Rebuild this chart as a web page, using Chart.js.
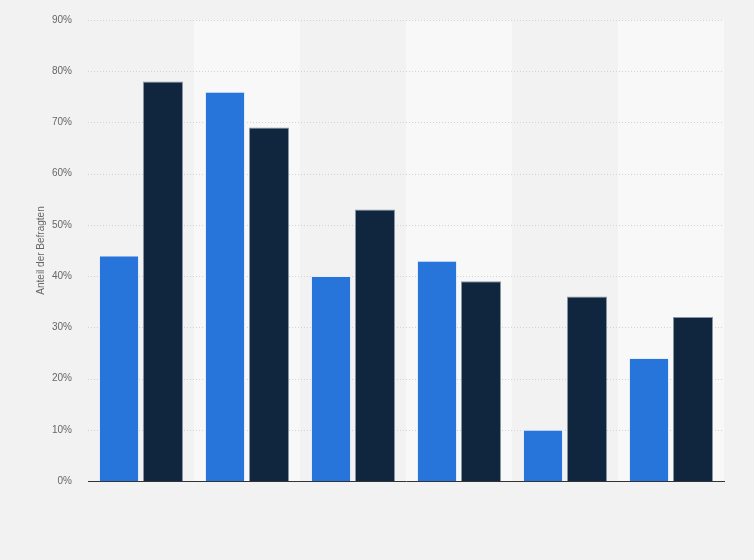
<!DOCTYPE html>
<html>
<head>
<meta charset="utf-8">
<script src="https://cdn.jsdelivr.net/npm/chart.js@4"></script>
<style>
html,body{margin:0;padding:0;background:#f2f2f2;}
#wrap{width:754px;height:560px;position:relative;}
</style>
</head>
<body>
<div id="wrap"><canvas id="c" width="754" height="560"></canvas></div>
<script>
const categories = ["1", "2", "3", "4", "5", "6"];
const seriesA = [44, 76, 40, 43, 10, 24];
const seriesB = [78, 69, 53, 39, 36, 32];
const yTicks = [0, 10, 20, 30, 40, 50, 60, 70, 80, 90];
const yTitle = "Anteil der Befragten";

const bandPlugin = {
  id: 'bands',
  beforeDatasetsDraw(chart) {
    const {ctx, chartArea, scales} = chart;
    const x = scales.x;
    ctx.save();
    categories.forEach((c, i) => {
      if (i % 2 === 1) {
        const l = x.getPixelForValue(i - 0.5);
        const r = x.getPixelForValue(i + 0.5);
        ctx.fillStyle = '#f8f8f8';
        ctx.fillRect(l, chartArea.top, r - l, chartArea.bottom - chartArea.top);
      }
    });
    ctx.restore();
  }
};
const gridPlugin = {
  id: 'gridOver',
  beforeDatasetsDraw(chart) {
    const {ctx, chartArea, scales} = chart;
    const y = scales.y;
    ctx.save();
    ctx.strokeStyle = '#d2d2d2';
    ctx.lineWidth = 1;
    ctx.setLineDash([1, 2]);
    yTicks.forEach(v => {
      if (v === 0) return;
      const py = Math.round(y.getPixelForValue(v)) + 0.5;
      ctx.beginPath();
      ctx.moveTo(chartArea.left, py);
      ctx.lineTo(chartArea.right, py);
      ctx.stroke();
    });
    ctx.restore();
  }
};

new Chart(document.getElementById('c'), {
  type: 'bar',
  data: {
    labels: categories,
    datasets: [
      {data: seriesA, backgroundColor: '#2775db', borderColor: '#e6eefa', borderWidth: 1, categoryPercentage: 0.83, barPercentage: 0.91},
      {data: seriesB, backgroundColor: '#0f263e', borderColor: '#8a96a3', borderWidth: 1, categoryPercentage: 0.83, barPercentage: 0.91}
    ]
  },
  options: {
    responsive: false,
    animation: false,
    devicePixelRatio: 1,
    layout: {padding: {top: 20, right: 30, bottom: 79, left: 30}},
    plugins: {legend: {display: false}, tooltip: {enabled: false}},
    scales: {
      x: {
        ticks: {display: false},
        grid: {display: false, drawTicks: false},
        border: {display: true, color: '#333333', width: 1}
      },
      y: {
        min: 0, max: 90,
        afterBuildTicks(axis) { axis.ticks = yTicks.map(v => ({value: v})); },
        afterFit(axis) { axis.width = 58; axis.paddingTop = 0; axis.paddingBottom = 0; },
        ticks: {
          callback: v => v + '%',
          color: '#666666',
          font: {family: 'Arial, "Liberation Sans", sans-serif', size: 10},
          padding: 16
        },
        grid: {display: false, drawTicks: false},
        border: {display: false},
        title: {
          display: true, text: yTitle, color: '#666666',
          font: {family: 'Arial, "Liberation Sans", sans-serif', size: 10},
          padding: {top: 5, bottom: 7}
        }
      }
    }
  },
  plugins: [bandPlugin, gridPlugin]
});
</script>
</body>
</html>
